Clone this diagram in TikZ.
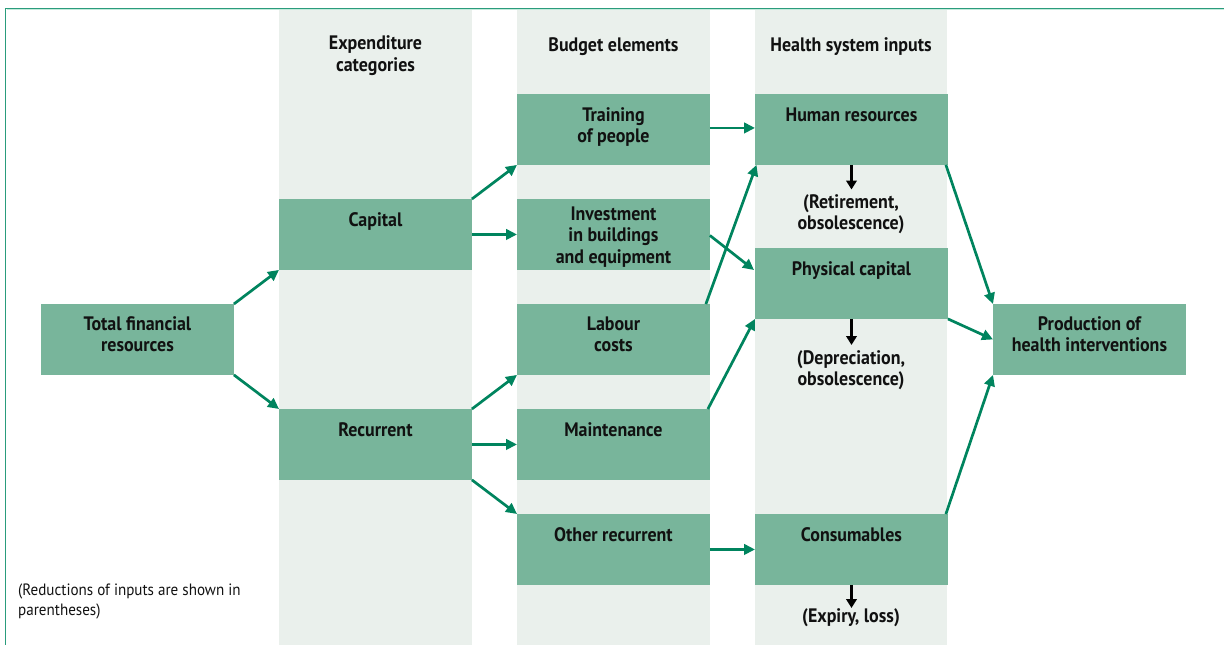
\documentclass[tikz,border=0pt]{standalone}
\usepackage{fontspec}
\setmainfont{PT Sans}[FakeStretch=0.92]
\usetikzlibrary{arrows.meta,calc}
\definecolor{boxg}{HTML}{78B59B}
\definecolor{bandg}{HTML}{EAF0EC}
\definecolor{arrg}{HTML}{00845E}
\definecolor{frameg}{HTML}{2A9C7C}
\definecolor{mintg}{HTML}{C4EADC}
\definecolor{txtc}{HTML}{111111}
\begin{document}
\begin{tikzpicture}[x=1pt,y=-1pt,
  box/.style={fill=boxg, draw=none, minimum width=192.5pt, minimum height=70.5pt, anchor=north west, inner sep=0pt},
  lbl/.style={font=\bfseries\fontsize{19.5}{21.2}\selectfont, align=center, text=txtc, inner sep=0pt, anchor=north,
    execute at begin node={\rule{0pt}{16pt}}},
  note/.style={font=\fontsize{16.4}{20.6}\selectfont, align=left, text=txtc, inner sep=0pt, anchor=north west},
  flow/.style={draw=arrg, line width=2.7pt, -{Triangle[length=11pt,width=10.5pt]}},
  loss/.style={draw=black, line width=2.7pt, -{Triangle[length=9pt,width=10.5pt]}}]
\useasboundingbox (0,0) rectangle (1224,645);
% bands
\fill[bandg] (279,10) rectangle (472,645);
\fill[bandg] (517,10) rectangle (710,645);
\fill[bandg] (755,10) rectangle (947,645);
% frame
\draw[mintg, line width=1pt] (6.5,9.7) -- (1224,9.7);
\draw[frameg, line width=1.3pt] (5.6,645) -- (5.6,8.2) -- (1224,8.2);
% headers
\node[lbl,font=\bfseries\fontsize{19.5}{21.8}\selectfont] (hB) at (375.5,35.3) {Expenditure\\categories};
\node[lbl] (hC) at (613.5,35.3) {Budget elements};
\node[lbl] (hD) at (851,35.3) {Health system inputs};
% boxes
\node[box] (tot) at (41,304) {};
\node[box] (cap) at (279,199) {};
\node[box] (rec) at (279,409) {};
\node[box] (trn) at (517,94) {};
\node[box] (inv) at (517,199) {};
\node[box] (lab) at (517,304) {};
\node[box] (mnt) at (517,409) {};
\node[box] (oth) at (517,514) {};
\node[box] (hr) at (755,94) {};
\node[box] (phy) at (755,248) {};
\node[box] (con) at (755,514) {};
\node[box] (prd) at (993,304) {};
% box texts
\node[lbl] (totT) at ($(tot.north)+(0,12.5)$) {Total financial\\resources};
\node[lbl] (capT) at ($(cap.north)+(0,11)$) {Capital};
\node[lbl] (recT) at ($(rec.north)+(0,11)$) {Recurrent};
\node[lbl] (trnT) at ($(trn.north)+(0,13.5)$) {Training\\of people};
\node[lbl] (invT) at ($(inv.north)+(0,7.8)$) {Investment\\in buildings\\and equipment};
\node[lbl] (labT) at ($(lab.north)+(0,12.5)$) {Labour\\costs};
\node[lbl] (mntT) at ($(mnt.north)+(0,11)$) {Maintenance};
\node[lbl] (othT) at ($(oth.north)+(0,11)$) {Other recurrent};
\node[lbl] (hrT) at ($(hr.north)+(0,11)$) {Human resources};
\node[lbl] (phyT) at ($(phy.north)+(0,11.5)$) {Physical capital};
\node[lbl] (conT) at ($(con.north)+(0,11)$) {Consumables};
\node[lbl] (prdT) at ($(prd.north)+(0,12.5)$) {Production of\\health interventions};
% reductions
\node[lbl] (ret) at (851,194.5) {(Retirement,\\obsolescence)};
\node[lbl] (dep) at (851,350) {(Depreciation,\\obsolescence)};
\node[lbl] (exp) at (851,606) {(Expiry, loss)};
\coordinate (retA) at (851.5,189.5);
\coordinate (depA) at (851.5,345);
\coordinate (expA) at (851.5,608);
\draw[loss] (hr.south -| retA) -- (retA);
\draw[loss] (phy.south -| depA) -- (depA);
\draw[loss] (con.south -| expA) -- (expA);
% note
\node[note] (nt) at (18,583.5) {(Reductions of inputs are shown in\\parentheses)};
% flows
\draw[flow] (tot.north east) -- (cap.south west);
\draw[flow] (tot.south east) -- (rec.north west);
\draw[flow] (cap.north east) -- (trn.south west);
\draw[flow] (cap.east) -- (inv.west);
\draw[flow] (rec.north east) -- (lab.south west);
\draw[flow] (rec.east) -- (mnt.west);
\draw[flow] (rec.south east) -- (oth.north west);
\draw[flow] ($(trn.east)+(0,-1.5)$) -- ($(hr.west)+(0,-1.5)$);
\draw[flow] ($(inv.east)+(0,1)$) -- ($(phy.north west)+(-1,22)$);
\draw[flow] ($(lab.north east)+(-4,0)$) -- ($(hr.south west)+(1.5,0)$);
\draw[flow] ($(mnt.north east)+(-2,0)$) -- (phy.south west);
\draw[flow] (oth.east) -- (con.west);
\draw[flow] ($(hr.south east)+(-2,0)$) -- (prd.north west);
\draw[flow] (phy.south east) -- (prd.west);
\draw[flow] ($(con.north east)+(-2,0)$) -- (prd.south west);
\end{tikzpicture}
\end{document}
